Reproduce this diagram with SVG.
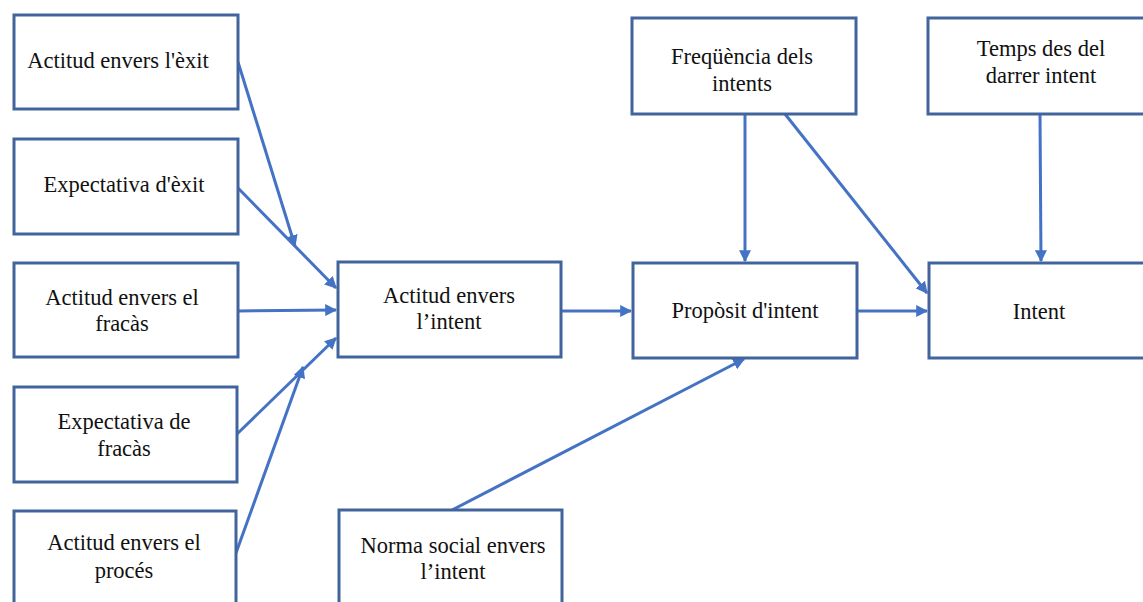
<svg xmlns="http://www.w3.org/2000/svg" width="1143" height="602" viewBox="0 0 1143 602">
  <style>
    .box { fill: #ffffff; stroke: #41649c; stroke-width: 3; }
    .lbl { font-family: "Liberation Serif", "Times New Roman", serif; font-size: 22.5px; fill: #111111; text-anchor: middle; }
    .edge { stroke: #4472c4; stroke-width: 3; fill: none; marker-end: url(#arrow); }
  </style>
  <defs>
    <marker id="arrow" viewBox="0 0 10 10" refX="9" refY="5" markerWidth="4" markerHeight="4" orient="auto" markerUnits="strokeWidth">
      <path d="M0,0 L10,5 L0,10 z" fill="#4472c4"/>
    </marker>
  </defs>
  <rect width="1143" height="602" fill="#ffffff"/>

  <g id="connectors">
    <line class="edge" x1="238" y1="62" x2="295" y2="246"/>
    <line class="edge" x1="238" y1="188" x2="336" y2="288"/>
    <line class="edge" x1="238" y1="311" x2="336" y2="310"/>
    <line class="edge" x1="237" y1="434" x2="336" y2="338"/>
    <line class="edge" x1="236" y1="553" x2="303" y2="367"/>
    <line class="edge" x1="561" y1="311" x2="631" y2="311"/>
    <line class="edge" x1="452" y1="510" x2="744" y2="359"/>
    <line class="edge" x1="745" y1="114" x2="745" y2="261"/>
    <line class="edge" x1="785" y1="114" x2="927" y2="293"/>
    <line class="edge" x1="1040" y1="114" x2="1041" y2="261"/>
    <line class="edge" x1="857" y1="311" x2="927" y2="311"/>
  </g>

  <g id="actitud-exit">
    <rect class="box" x="14" y="15" width="224" height="94"/>
    <text class="lbl" x="118" y="68">Actitud envers l'èxit</text>
  </g>
  <g id="expectativa-exit">
    <rect class="box" x="14" y="139" width="224" height="95"/>
    <text class="lbl" x="124" y="192">Expectativa d'èxit</text>
  </g>
  <g id="actitud-fracas">
    <rect class="box" x="14" y="263" width="224" height="94"/>
    <text class="lbl" x="122" y="305">Actitud envers el</text>
    <text class="lbl" x="122" y="331">fracàs</text>
  </g>
  <g id="expectativa-fracas">
    <rect class="box" x="14" y="387" width="223" height="95"/>
    <text class="lbl" x="124" y="429">Expectativa de</text>
    <text class="lbl" x="124" y="456">fracàs</text>
  </g>
  <g id="actitud-proces">
    <rect class="box" x="14" y="511" width="222" height="100"/>
    <text class="lbl" x="124" y="550">Actitud envers el</text>
    <text class="lbl" x="124" y="578">procés</text>
  </g>
  <g id="actitud-intent">
    <rect class="box" x="338" y="262" width="223" height="95"/>
    <text class="lbl" x="449" y="303">Actitud envers</text>
    <text class="lbl" x="449" y="329">l’intent</text>
  </g>
  <g id="norma-social">
    <rect class="box" x="339" y="510" width="223" height="100"/>
    <text class="lbl" x="453" y="553">Norma social envers</text>
    <text class="lbl" x="453" y="579">l’intent</text>
  </g>
  <g id="proposit-intent">
    <rect class="box" x="633" y="263" width="224" height="95"/>
    <text class="lbl" x="745" y="318">Propòsit d'intent</text>
  </g>
  <g id="frequencia-intents">
    <rect class="box" x="632" y="18" width="224" height="96"/>
    <text class="lbl" x="742" y="64">Freqüència dels</text>
    <text class="lbl" x="742" y="91">intents</text>
  </g>
  <g id="temps-darrer-intent">
    <rect class="box" x="928" y="18" width="224" height="96"/>
    <text class="lbl" x="1041" y="56">Temps des del</text>
    <text class="lbl" x="1041" y="83">darrer intent</text>
  </g>
  <g id="intent">
    <rect class="box" x="929" y="263" width="224" height="95"/>
    <text class="lbl" x="1039" y="319">Intent</text>
  </g>
</svg>
